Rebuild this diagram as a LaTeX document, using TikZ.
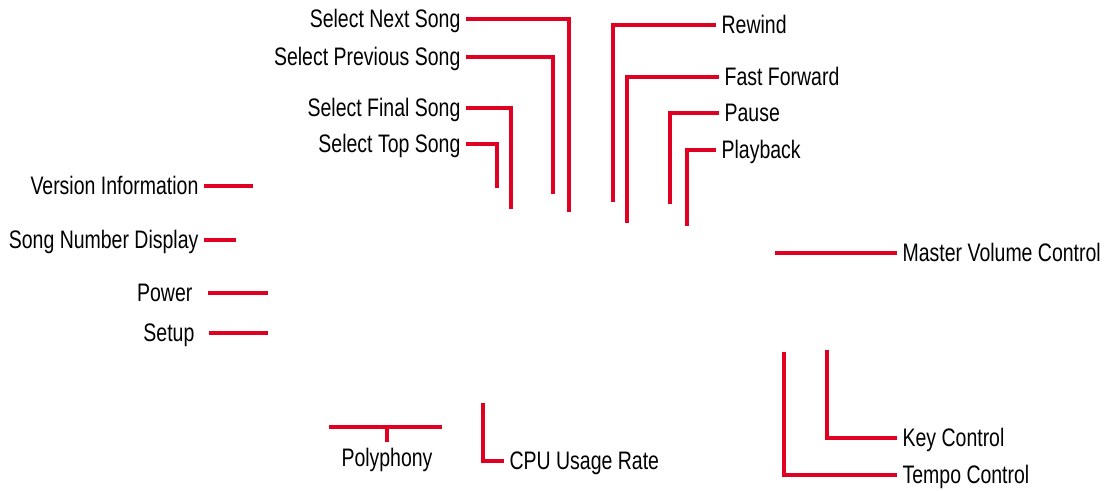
\documentclass[tikz,border=0pt]{standalone}
\usepackage{fontspec}
\setmainfont{Liberation Sans}[FakeStretch=0.77]
\usetikzlibrary{positioning}
\definecolor{leadred}{RGB}{224,0,34}

\begin{document}
\begin{tikzpicture}[
    x=0.1mm, y=-0.1mm,
    every node/.style={font=\fontsize{7.2}{8.5}\selectfont},
    lbl/.style={inner sep=1.4pt,text height=5.5pt,text depth=0.4pt},
    lead/.style={leadred,line width=1pt},
  ]
  \useasboundingbox (0,0) rectangle (1104,490);

  % song selection keys
  \foreach \nm/\txt/\y/\xc/\yb in {next/Select Next Song/19/569/212,
      prev/Select Previous Song/57/553/194,
      final/Select Final Song/108/511/209,
      top/Select Top Song/144/497/188} {
    \node[lbl,anchor=east] (\nm) at (466,\y) {\txt};
    \coordinate (\nm-end) at (\xc,\yb);
    \draw[lead] (\nm.east) -| (\nm-end);
  }

  % transport keys
  \foreach \nm/\txt/\x/\y/\xc/\yb in {rew/Rewind/716/25/613/202,
      ff/Fast Forward/719/77/627/223,
      pause/Pause/719/113/670/204,
      play/Playback/716/150/687/226} {
    \node[lbl,anchor=west] (\nm) at (\x,\y) {\txt};
    \coordinate (\nm-end) at (\xc,\yb);
    \draw[lead] (\nm.west) -| (\nm-end);
  }

  % left side
  \foreach \nm/\txt/\y/\xs/\xe/\gap in {ver/Version Information/186/204/253/0,
      num/Song Number Display/240/204/236/0,
      pwr/Power/293/198/268/2.8,
      setup/Setup/333/200/268/2.5} {
    \node[lbl,anchor=east] (\nm) at (\xs,\y) {\txt};
    \coordinate (\nm-end) at (\xe,\y);
    \draw[lead,shorten <=\gap pt] (\nm.east) -- (\nm-end);
  }

  % right side
  \node[lbl,anchor=west] (mvc) at (897,253) {Master Volume Control};
  \coordinate (mvc-end) at (775,253);
  \draw[lead] (mvc.west) -- (mvc-end);

  \node[lbl,anchor=west] (key) at (897,438) {Key Control};
  \coordinate (key-end) at (827,350);
  \draw[lead] (key.west) -| (key-end);

  \node[lbl,anchor=west] (tempo) at (897,475) {Tempo Control};
  \coordinate (tempo-end) at (784,352);
  \draw[lead] (tempo.west) -| (tempo-end);

  % bottom
  \node[lbl,anchor=north] (poly) at (387,442) {Polyphony};
  \coordinate (poly-l) at (329,427);
  \coordinate (poly-r) at (442,427);
  \draw[lead] (poly-l) -- (poly-r);
  \draw[lead] (poly.north) -- (poly.north |- poly-l);

  \node[lbl,anchor=west] (cpu) at (504,461) {CPU Usage Rate};
  \coordinate (cpu-end) at (483,403);
  \draw[lead] (cpu.west) -| (cpu-end);
\end{tikzpicture}
\end{document}
